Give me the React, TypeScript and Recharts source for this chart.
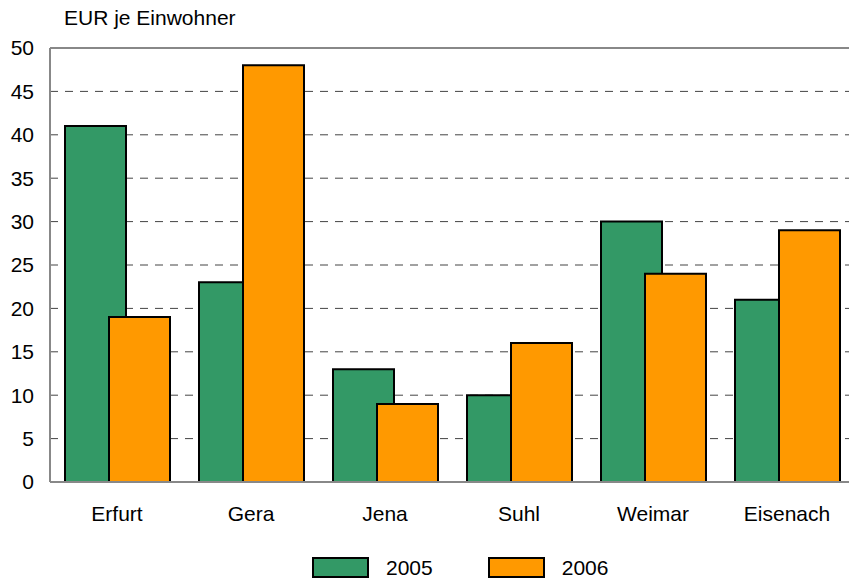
import React from "react";
import { BarChart, Bar, XAxis, YAxis, CartesianGrid, ReferenceLine } from "recharts";

const cities = ["Erfurt", "Gera", "Jena", "Suhl", "Weimar", "Eisenach"];
const values2005 = [41, 23, 13, 10, 30, 21];
const values2006 = [19, 48, 9, 16, 24, 29];
const yTicks = [0, 5, 10, 15, 20, 25, 30, 35, 40, 45, 50];

const series = [
  { key: "v2005", name: "2005", color: "#339966" },
  { key: "v2006", name: "2006", color: "#FF9900" },
];

const data = cities.map((city, i) => ({ city, v2005: values2005[i], v2006: values2006[i] }));

const FONT = "'Liberation Sans', Arial, sans-serif";
const tickStyle = { fontSize: 21, fill: "#000", fontFamily: FONT };

const App = () => {
  return (
    <div style={{ position: "fixed", top: 0, left: 0, width: 849, height: 581, overflow: "hidden", background: "#fff", fontFamily: FONT }}>
      <div style={{ position: "absolute", top: 7, left: 64, fontSize: 21, lineHeight: "21px", color: "#000" }}>
        EUR je Einwohner
      </div>
      <BarChart
        width={860}
        height={581}
        data={data}
        margin={{ top: 48, right: 6, bottom: 69, left: 0 }}
        barSize={61}
        barGap={-17}
      >
        <CartesianGrid vertical={false} stroke="#444" strokeDasharray="8 7" />
        <XAxis
          dataKey="city"
          height={30}
          tickLine={false}
          tickSize={0}
          tickMargin={24}
          axisLine={{ stroke: "#888", strokeWidth: 2 }}
          tick={tickStyle}
        />
        <YAxis
          width={50}
          domain={[0, 50]}
          ticks={yTicks}
          interval={0}
          tickLine={false}
          tickSize={0}
          tickMargin={16}
          axisLine={{ stroke: "#888", strokeWidth: 2 }}
          tick={tickStyle}
        />
        <ReferenceLine y={50} stroke="#888" strokeWidth={2} />
        {series.map((s) => (
          <Bar key={s.key} dataKey={s.key} name={s.name} fill={s.color} stroke="#000" strokeWidth={2} isAnimationActive={false} />
        ))}
      </BarChart>
      <div style={{ position: "absolute", top: 557, left: 312, display: "flex", alignItems: "center", fontSize: 21, lineHeight: "21px" }}>
        {series.map((s, i) => (
          <div key={s.key} style={{ display: "flex", alignItems: "center", marginLeft: i === 0 ? 0 : 55 }}>
            <div style={{ width: 57, height: 21, boxSizing: "border-box", border: "2px solid #000", background: s.color }} />
            <span style={{ marginLeft: 17 }}>{s.name}</span>
          </div>
        ))}
      </div>
    </div>
  );
};

export default App;
